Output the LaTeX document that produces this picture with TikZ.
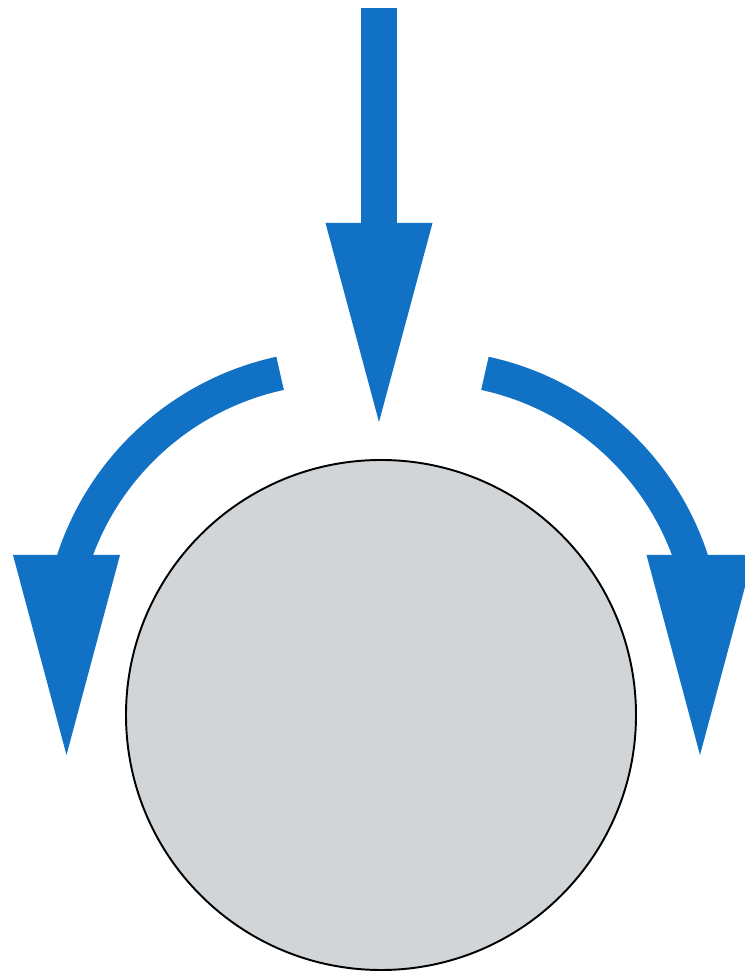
\documentclass[tikz,border=0pt]{standalone}
\usetikzlibrary{arrows.meta}
\definecolor{flowblue}{RGB}{17,113,196}
\definecolor{ballgray}{RGB}{210,213,216}
\tikzset{
  flowarrow/.style={line width=0.72cm, draw=flowblue, line cap=butt,
    -{Triangle[length=3.98cm, width=2.14cm, line width=0pt]}},
  bendband/.style={line width=0.68cm, draw=flowblue, line cap=butt},
  sidehead/.style={line width=2pt, draw=flowblue, line cap=butt,
    -{Triangle[length=4.0cm, width=2.14cm, line width=0pt]}},
  ball/.style={circle, fill=ballgray, draw=black, line width=1.1pt, minimum size=10.2cm, inner sep=0pt},
}
\begin{document}
\begin{tikzpicture}
\useasboundingbox (0,0) rectangle (14.880,19.460);
\node[ball] (ball) at (7.620,5.160) {};
\coordinate (intop) at (7.580,19.300);
\coordinate (intip) at (7.580,11.020);
\coordinate (lstart) at (5.602,11.993);
\coordinate (lbase) at (1.330,8.420);
\coordinate (ltip) at (1.330,4.360);
\coordinate (rstart) at (9.698,11.993);
\coordinate (rbase) at (14.000,8.420);
\coordinate (rtip) at (14.000,4.360);
\draw[flowarrow] (intop) -- (intip);
\draw[bendband] (lstart) arc[start angle=102.25, end angle=163, radius=5.6cm];
\draw[sidehead] (lbase) -- (ltip);
\draw[bendband] (rstart) arc[start angle=77.75, end angle=17, radius=5.6cm];
\draw[sidehead] (rbase) -- (rtip);
\end{tikzpicture}
\end{document}
